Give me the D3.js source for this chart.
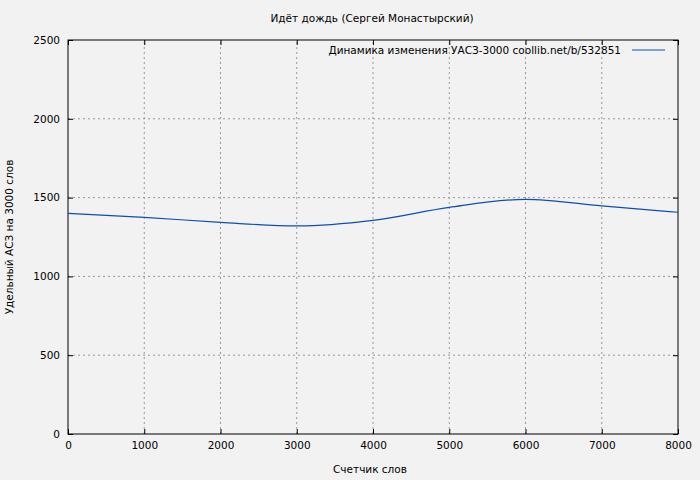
<!DOCTYPE html>
<html><head><meta charset="utf-8">
<script src="https://cdn.jsdelivr.net/npm/d3@7"></script>
<style>body{margin:0;background:#f2f2f2}svg{font-family:"DejaVu Sans",sans-serif;font-size:10.5px}</style>
</head><body><div id="plot"></div>
<script>
'use strict';
const words = [0, 1000, 2000, 3000, 4000, 5000, 6000, 7000, 8000];
const values = [1400, 1375, 1343, 1320, 1355, 1438, 1489, 1447, 1407];
const xTicks = [0, 1000, 2000, 3000, 4000, 5000, 6000, 7000, 8000];
const yTicks = [0, 500, 1000, 1500, 2000, 2500];

const W = 700, H = 480, m = {l: 68, r: 22, t: 40, b: 46};
const svg = d3.select('#plot').append('svg').attr('width', W).attr('height', H);
svg.append('rect').attr('width', W).attr('height', H).attr('fill', '#f2f2f2');

const x = d3.scaleLinear().domain([0, 8000]).range([m.l, W - m.r]);
const y = d3.scaleLinear().domain([0, 2500]).range([H - m.b, m.t]);

const grid = svg.append('g').attr('stroke', '#999').attr('stroke-dasharray', '2,3').attr('stroke-width', 1);
xTicks.slice(1, -1).forEach(t => grid.append('line').attr('x1', x(t)).attr('x2', x(t)).attr('y1', y(0)).attr('y2', y(2500)));
yTicks.slice(1, -1).forEach(t => grid.append('line').attr('x1', x(0)).attr('x2', x(8000)).attr('y1', y(t)).attr('y2', y(t)));

svg.append('g').attr('transform', `translate(0,${y(0)})`)
    .call(d3.axisBottom(x).tickValues(xTicks).tickSize(-5).tickPadding(8).tickFormat(d3.format('d')))
    .call(g => g.select('.domain').remove());
svg.append('g').attr('transform', `translate(${x(0)},0)`)
    .call(d3.axisLeft(y).tickValues(yTicks).tickSize(-5).tickPadding(8).tickFormat(d3.format('d')))
    .call(g => g.select('.domain').remove());
svg.append('g').attr('transform', `translate(0,${y(2500)})`)
    .call(d3.axisTop(x).tickValues(xTicks).tickSize(-5).tickFormat(''))
    .call(g => g.select('.domain').remove());
svg.append('g').attr('transform', `translate(${x(8000)},0)`)
    .call(d3.axisRight(y).tickValues(yTicks).tickSize(-5).tickFormat(''))
    .call(g => g.select('.domain').remove());
svg.selectAll('.tick text').attr('fill', '#000').style('font-size', '10.5px').style('font-family', '"DejaVu Sans",sans-serif');

svg.append('rect').attr('x', x(0)).attr('y', y(2500)).attr('width', x(8000) - x(0)).attr('height', y(0) - y(2500))
    .attr('fill', 'none').attr('stroke', '#000');

svg.append('path').datum(words.map((w, i) => [w, values[i]]))
    .attr('fill', 'none').attr('stroke', '#0b4fb5').attr('stroke-width', 1.2)
    .attr('d', d3.line().x(d => x(d[0])).y(d => y(d[1])).curve(d3.curveMonotoneX));

svg.append('text').attr('x', 372).attr('y', 22).attr('text-anchor', 'middle').text('Идёт дождь (Сергей Монастырский)');
svg.append('text').attr('x', 370).attr('y', 473).attr('text-anchor', 'middle').text('Счетчик слов');
svg.append('text').attr('transform', `translate(13,237) rotate(-90)`).attr('text-anchor', 'middle').text('Удельный АСЗ на 3000 слов');
svg.append('text').attr('x', 621).attr('y', 54).attr('text-anchor', 'end').text('Динамика изменения УАСЗ-3000  coollib.net/b/532851');
svg.append('line').attr('x1', 632).attr('x2', 665).attr('y1', 50).attr('y2', 50).attr('stroke', '#0b4fb5').attr('stroke-width', 1.2);
</script></body></html>
